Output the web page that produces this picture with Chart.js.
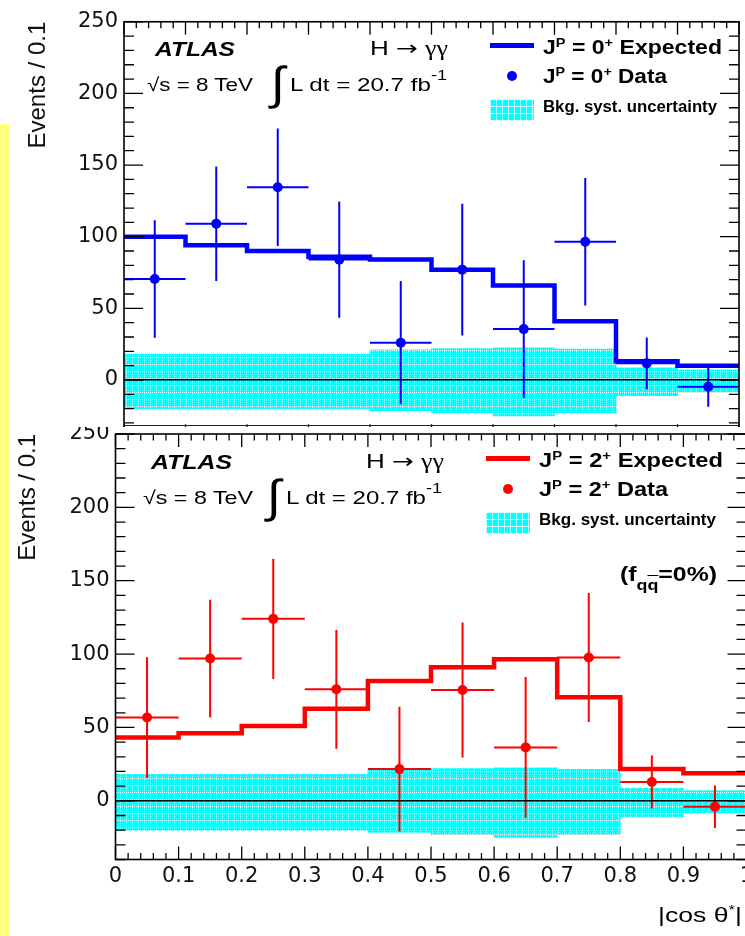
<!DOCTYPE html>
<html><head><meta charset="utf-8">
<script src="https://cdn.jsdelivr.net/npm/chart.js@4.4.1/dist/chart.umd.min.js"></script>
<style>
html,body{margin:0;padding:0;background:#fff;overflow:hidden;width:745px;height:936px;position:relative;}
#topWrap{position:absolute;left:0;top:0;width:745px;height:427px;overflow:hidden;background:#fff;z-index:2;}
#botWrap{position:absolute;left:0;top:400px;width:760px;height:536px;z-index:1;background:#fff;}
.t{position:absolute;white-space:nowrap;font-family:"Liberation Sans",Arial,sans-serif;line-height:1;transform-origin:0 0;color:#000;z-index:5;}
.b{font-weight:bold;}
.sup{font-size:0.63em;position:relative;top:-0.6em;}
.sup2{font-size:0.75em;position:relative;top:-0.75em;}
.sub{font-size:0.72em;position:relative;top:0.55em;}
.ov{text-decoration:overline;}
.ser{font-family:"Liberation Serif","Times New Roman",serif;}
.arr{font-family:"DejaVu Sans",sans-serif;}
.mk{position:absolute;z-index:5;}
.box{background-color:#00ffff;background-image:repeating-linear-gradient(0deg,rgba(255,255,255,.85) 0 1px,transparent 1px 7px),repeating-linear-gradient(90deg,rgba(255,255,255,.7) 0 1px,transparent 1px 6px);}
#yellow{position:absolute;left:0;top:124px;width:9px;height:812px;background:#ffff80;z-index:10;}
#sepLine{position:absolute;left:124px;top:424.5px;width:615px;height:1.3px;background:#222;z-index:4;}
</style>
</head>
<body>
<div id="topWrap"><canvas id="cTop" width="745" height="480"></canvas></div>
<div id="botWrap"><canvas id="cBot" width="760" height="536"></canvas></div>
<div id="sepLine"></div>
<div id="yellow"></div>
<script>
// ---------------- data ----------------
const binEdges   = [0, 0.1, 0.2, 0.3, 0.4, 0.5, 0.6, 0.7, 0.8, 0.9, 1.0];
const binCenters = [0.05, 0.15, 0.25, 0.35, 0.45, 0.55, 0.65, 0.75, 0.85, 0.95];
const xTickVals  = [0, 0.1, 0.2, 0.3, 0.4, 0.5, 0.6, 0.7, 0.8, 0.9, 1];
const yTickVals  = [0, 50, 100, 150, 200, 250];

const expected0p = [100, 94, 90, 86, 84, 77, 66, 41, 13, 10];
const data0p     = [70.5, 109, 134.5, 84, 26, 77, 35.5, 96.5, 11.6, -4.7];
const err0p      = [41, 40, 41, 40.5, 43, 46, 48, 44.5, 18, 14];

const expected2p = [43.2, 46, 51, 62.7, 81.6, 91, 96.4, 70.5, 21.6, 18.7];
const data2p     = [56.8, 97, 124, 76, 21.6, 75.5, 36.4, 97.7, 12.8, -4];
const err2p      = [41, 40, 41, 40.5, 42.5, 46, 48, 44, 18, 14.5];

const bkgUp      = [18, 18, 18, 18, 21, 22, 22.5, 21.5, 8.5, 7];
const bkgDown    = [-20, -20, -20, -20, -21.5, -23, -25, -23, -11, -8.5];

// ---------------- helpers ----------------
function hatchPattern(ctx){
  const c=document.createElement('canvas'); c.width=6; c.height=7;
  const g=c.getContext('2d');
  g.fillStyle='#00ffff'; g.fillRect(0,0,6,7);
  g.fillStyle='rgba(255,255,255,0.85)';
  for(let x=0;x<6;x+=2) g.fillRect(x,0,1,1);
  g.fillStyle='rgba(255,255,255,0.6)';
  for(let y=1;y<7;y+=2) g.fillRect(0,y,1,1);
  return ctx.createPattern(c,'repeat');
}

const errorBars = {
  id:'errorBars',
  afterDatasetsDraw(chart){
    const {ctx, scales:{x,y}} = chart;
    chart.data.datasets.forEach((ds)=>{
      if(!ds.errors) return;
      ctx.save();
      ctx.strokeStyle=ds.backgroundColor; ctx.lineWidth=2;
      ctx.beginPath();
      ds.data.forEach((p,i)=>{
        const px=x.getPixelForValue(p.x), py=y.getPixelForValue(p.y);
        ctx.moveTo(px, y.getPixelForValue(p.y+ds.errors[i]));
        ctx.lineTo(px, y.getPixelForValue(p.y-ds.errors[i]));
        ctx.moveTo(x.getPixelForValue(binEdges[i]), py);
        ctx.lineTo(x.getPixelForValue(binEdges[i+1]), py);
      });
      ctx.stroke();
      ctx.restore();
    });
  }
};

const frameTicks = {
  id:'frameTicks',
  afterDraw(chart){
    const {ctx, chartArea:a, scales:{x,y}} = chart;
    ctx.save(); ctx.strokeStyle='#000'; ctx.lineWidth=1.3;
    ctx.beginPath();
    for(let i=0;i<=50;i++){
      const px=x.getPixelForValue(i/50); const len=(i%5===0)?13:6.5;
      ctx.moveTo(px,a.bottom); ctx.lineTo(px,a.bottom-len);
      ctx.moveTo(px,a.top); ctx.lineTo(px,a.top+len);
    }
    for(let v=-40; v<=250; v+=10){
      const py=y.getPixelForValue(v); const len=(v%50===0)?19:10;
      ctx.moveTo(a.left,py); ctx.lineTo(a.left+len,py);
      ctx.moveTo(a.right,py); ctx.lineTo(a.right-len,py);
    }
    ctx.stroke();
    ctx.lineWidth=1.6;
    ctx.strokeRect(a.left,a.top,a.right-a.left,a.bottom-a.top);
    ctx.restore();
  }
};

function makeChart(canvasId, color, expected, data, errs, geo){
  const canvas=document.getElementById(canvasId);
  const ctx=canvas.getContext('2d');
  return new Chart(ctx,{
    type:'scatter',
    data:{datasets:[
      {type:'scatter', label:'Data', data:binCenters.map((c,i)=>({x:c,y:data[i]})),
       errors:errs, backgroundColor:color, borderWidth:0, pointRadius:5, pointHoverRadius:5, order:0},
      {type:'line', label:'Expected', data:binEdges.map((e,i)=>({x:e,y:expected[Math.min(i,expected.length-1)]})),
       stepped:true, borderColor:color, borderWidth:4.5, pointRadius:0, fill:false, order:1, borderCapStyle:'butt', borderJoinStyle:'miter'},
      {type:'bar', label:'Bkg', data:binCenters.map((c,i)=>({x:c,y:[bkgDown[i],bkgUp[i]]})),
       backgroundColor:hatchPattern(ctx), borderWidth:0, barPercentage:1, categoryPercentage:1, order:3}
    ]},
    options:{
      responsive:false, animation:false, devicePixelRatio:1, events:[],
      layout:{padding:geo.pad},
      plugins:{legend:{display:false}, tooltip:{enabled:false}},
      scales:{
        x:{type:'linear', min:0, max:1, offset:false,
           grid:{display:false, drawTicks:false, tickLength:0, offset:false},
           border:{display:false},
           afterBuildTicks:s=>{s.ticks=xTickVals.map(v=>({value:v}));},
           afterFit:s=>{s.height=geo.xh;},
           ticks:{display:geo.xlabels, autoSkip:false, maxRotation:0, padding:4,
                  font:{family:'DejaVu Sans', size:21}, color:'#111',
                  callback:v=>String(v)}},
        y:{type:'linear', min:-40, max:250,
           grid:{display:true, drawTicks:false, tickLength:0, z:1, lineWidth:1.6,
                 color:c=>(c.tick && c.tick.value===0)?'#000':'rgba(0,0,0,0)'},
           border:{display:false},
           afterBuildTicks:s=>{s.ticks=yTickVals.map(v=>({value:v}));},
           afterFit:s=>{s.width=geo.yw;},
           ticks:{autoSkip:false, padding:6, font:{family:'DejaVu Sans', size:21}, color:'#111'},
           title:{display:true, text:'Events / 0.1', align:'end', color:'#111',
                  font:{family:'Liberation Sans', size:24}, padding:{top:geo.tp, bottom:0}}}
      }
    },
    plugins:[errorBars, frameTicks]
  });
}

makeChart('cTop','#0000ff',expected0p,data0p,err0p,
  {pad:{left:0,right:6,top:21.75,bottom:42.7}, xh:0, yw:124, xlabels:false, tp:24});
makeChart('cBot','#ff0000',expected2p,data2p,err2p,
  {pad:{left:0,right:13.5,top:34,bottom:0}, xh:76.5, yw:115.5, xlabels:true, tp:14.2});

// ---------------- annotations ----------------
function put(html,left,base,size,width,cls){
  const s=document.createElement('span');
  s.className='t'+(cls?' '+cls:''); s.innerHTML=html;
  s.style.fontSize=size+'px';
  s.style.left=left+'px'; s.style.top=(base-0.8465*size)+'px';
  document.body.appendChild(s);
  if(width){ const w=s.getBoundingClientRect().width; s.style.transform='scaleX('+(width/w)+')'; }
  return s;
}
function mark(left,top,w,h,css){
  const d=document.createElement('div'); d.className='mk';
  d.style.cssText+='left:'+left+'px;top:'+top+'px;width:'+w+'px;height:'+h+'px;'+(css||'');
  document.body.appendChild(d); return d;
}
function panelText(dy, dx, color, jp, wAT, wS, wL, wExp, wData, wBkg){
  put('<i>ATLAS</i>',155+dx,56+dy,20,wAT,'b');
  put('H <span class="arr">&rarr;</span> <span class="ser">&gamma;&gamma;</span>',370+dx,55+dy,20,78);
  put('&radic;s = 8 TeV',147+dx,91+dy,19,wS);
  put('&int;',271+dx,99+dy,46,14);
  put('L dt = 20.7 fb<span class="sup2">-1</span>',290+dx,91+dy,19,wL);
  mark(490+dx,43+dy,44,4.5,'background:'+color);
  put('J<span class="sup">P</span> = '+jp+'<span class="sup">+</span> Expected',543+dx,54+dy,20,wExp,'b');
  mark(507+dx,71+dy,10,10,'background:'+color+';border-radius:50%');
  put('J<span class="sup">P</span> = '+jp+'<span class="sup">+</span> Data',543+dx,83+dy,20,wData,'b');
  mark(490+dx,99+dy,44,22,'').className='mk box';
  put('Bkg. syst. uncertainty',543+dx,113+dy,16,wBkg,'b');
}
panelText(0,0,'#0000ff','0',80,106,157,179,124,174);
panelText(413,-4,'#ff0000','2',81,110,156,184,129,177);
put('(f<span class="sub">q<span class="ov">q</span></span>=0%)',620,581,21,97,'b');
put('|cos &theta;<span class="sup">*</span>|',658,922,21,84);
</script>
</body></html>
